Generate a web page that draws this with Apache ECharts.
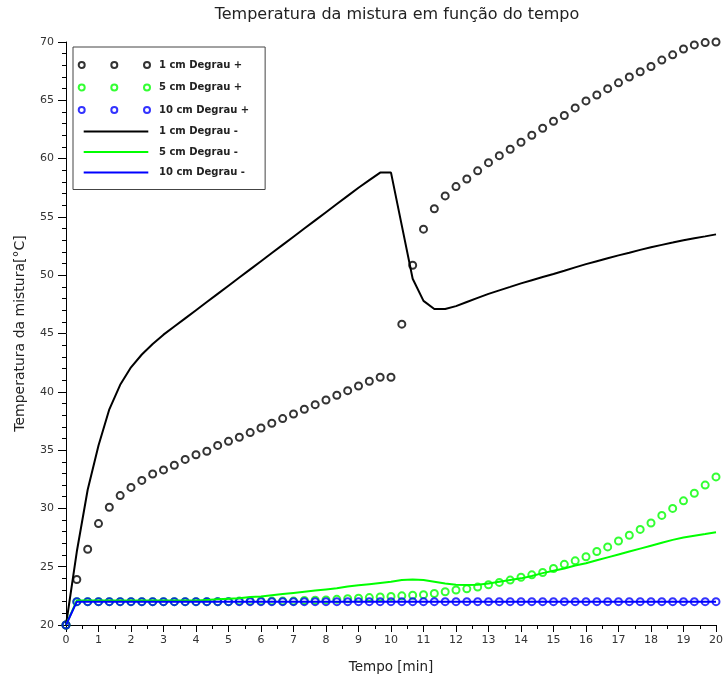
<!DOCTYPE html>
<html>
<head>
<meta charset="utf-8">
<script src="https://cdn.jsdelivr.net/npm/echarts@6/dist/echarts.min.js"></script>
<style>
  html, body { margin: 0; padding: 0; background: #fff; }
  #main { width: 726px; height: 684px; }
</style>
</head>
<body>
<div id="main"></div>
<script>
// tempo [min] - amostras a cada 1/3 min
var tempo = [
  0, 0.333, 0.667, 1, 1.333, 1.667, 2, 2.333, 2.667, 3, 3.333, 3.667, 4, 4.333, 4.667, 5,
  5.333, 5.667, 6, 6.333, 6.667, 7, 7.333, 7.667, 8, 8.333, 8.667, 9, 9.333, 9.667, 10,
  10.333, 10.667, 11, 11.333, 11.667, 12, 12.333, 12.667, 13, 13.333, 13.667, 14, 14.333, 14.667, 15,
  15.333, 15.667, 16, 16.333, 16.667, 17, 17.333, 17.667, 18, 18.333, 18.667, 19, 19.333, 19.667, 20
];

// degrau + (circulos)
var deg1Mais = [
  20, 23.9, 26.5, 28.7, 30.1, 31.1, 31.8, 32.4, 32.95, 33.3, 33.7, 34.2, 34.6, 34.9, 35.4, 35.75,
  36.1, 36.5, 36.9, 37.3, 37.7, 38.1, 38.5, 38.9, 39.3, 39.7, 40.1, 40.5, 40.9, 41.25, 41.25,
  45.8, 50.85, 53.95, 55.7, 56.8, 57.6, 58.25, 58.95, 59.65, 60.25, 60.8, 61.4, 62.0, 62.6, 63.2,
  63.7, 64.35, 64.95, 65.45, 66.0, 66.5, 67.0, 67.45, 67.9, 68.45, 68.9, 69.4, 69.75, 69.95, 70.0
];
var deg5Mais = [
  20, 22.0, 22.0, 22.0, 22.0, 22.0, 22.0, 22.0, 22.0, 22.0, 22.0, 22.0, 22.0, 22.0, 22.0, 22.0,
  22.05, 22.05, 22.05, 22.05, 22.05, 22.05, 22.1, 22.12, 22.15, 22.2, 22.25, 22.3, 22.35, 22.4, 22.45,
  22.5, 22.55, 22.6, 22.7, 22.85, 23.0, 23.1, 23.25, 23.45, 23.65, 23.85, 24.1, 24.3, 24.5, 24.85,
  25.2, 25.5, 25.85, 26.3, 26.7, 27.2, 27.7, 28.2, 28.75, 29.4, 30.0, 30.65, 31.3, 32.0, 32.7
];
var deg10Mais = [
  20, 22.0, 22.0, 22.0, 22.0, 22.0, 22.0, 22.0, 22.0, 22.0, 22.0, 22.0, 22.0, 22.0, 22.0, 22.0,
  22.0, 22.0, 22.0, 22.0, 22.0, 22.0, 22.0, 22.0, 22.0, 22.0, 22.0, 22.0, 22.0, 22.0, 22.0,
  22.0, 22.0, 22.0, 22.0, 22.0, 22.0, 22.0, 22.0, 22.0, 22.0, 22.0, 22.0, 22.0, 22.0, 22.0,
  22.0, 22.0, 22.0, 22.0, 22.0, 22.0, 22.0, 22.0, 22.0, 22.0, 22.0, 22.0, 22.0, 22.0, 22.0
];

// degrau - (linhas)
var deg1Menos = [
  20, 26.3, 31.6, 35.4, 38.5, 40.6, 42.1, 43.2, 44.1, 44.9, 45.6, 46.3, 47.0, 47.7, 48.4, 49.1,
  49.8, 50.5, 51.2, 51.9, 52.6, 53.3, 54.0, 54.7, 55.4, 56.1, 56.8, 57.5, 58.15, 58.8, 58.8,
  54.25, 49.7, 47.8, 47.1, 47.1, 47.35, 47.7, 48.05, 48.4, 48.7, 49.0, 49.3, 49.57, 49.84, 50.1,
  50.38, 50.67, 50.95, 51.2, 51.45, 51.7, 51.93, 52.17, 52.4, 52.6, 52.8, 53.0, 53.17, 53.33, 53.5
];
var deg5Menos = [
  20, 22.1, 22.1, 22.1, 22.1, 22.1, 22.1, 22.1, 22.1, 22.1, 22.1, 22.1, 22.1, 22.15, 22.2, 22.25,
  22.3, 22.4, 22.45, 22.55, 22.65, 22.75, 22.85, 22.95, 23.05, 23.15, 23.3, 23.4, 23.5, 23.6, 23.7,
  23.85, 23.9, 23.85, 23.7, 23.55, 23.45, 23.42, 23.45, 23.55, 23.7, 23.85, 24.0, 24.2, 24.45, 24.65,
  24.85, 25.1, 25.3, 25.55, 25.8, 26.05, 26.3, 26.55, 26.8, 27.05, 27.3, 27.5, 27.65, 27.8, 27.95
];
var deg10Menos = deg10Mais.slice();

var nomes = ['1 cm Degrau +', '5 cm Degrau +', '10 cm Degrau +', '1 cm Degrau -', '5 cm Degrau -', '10 cm Degrau -'];
var cores = ['#000000', '#00ff00', '#0000ff'];
var xTicks = { min: 0, max: 20, interval: 1 };
var yTicks = { min: 20, max: 70, interval: 5 };

function pares(ys) {
  return tempo.map(function (t, i) { return [t, ys[i]]; });
}

// icones da legenda (caixa 76x12)
var iconeCirculos = 'path://M0,0 M76,12 M0.7,6 a3,3 0 1,0 6,0 a3,3 0 1,0 -6,0 ' +
  'M33.3,6 a3,3 0 1,0 6,0 a3,3 0 1,0 -6,0 M66,6 a3,3 0 1,0 6,0 a3,3 0 1,0 -6,0';
var iconeLinha = 'path://M0,0 M76,12 M5.7,5 L70.3,5 L70.3,7 L5.7,7 Z';

var chart = echarts.init(document.getElementById('main'));
var fonte = 'DejaVu Sans';

function serieCirculos(nome, cor, ys) {
  return {
    name: nome, type: 'scatter', data: pares(ys),
    symbol: 'circle', symbolSize: 7,
    itemStyle: { color: 'transparent', borderColor: cor, borderWidth: 2 },
    emphasis: { disabled: true }, animation: false
  };
}
function serieLinha(nome, cor, ys) {
  return {
    name: nome, type: 'line', data: pares(ys),
    symbol: 'none', lineStyle: { color: cor, width: 2 }, itemStyle: { color: cor },
    emphasis: { disabled: true }, animation: false
  };
}

var option = {
  backgroundColor: '#fff',
  animation: false,
  title: {
    text: 'Temperatura da mistura em função do tempo',
    left: 392, top: 2, textAlign: 'center',
    textStyle: { fontFamily: fonte, fontSize: 16, fontWeight: 'normal', color: '#222' }
  },
  grid: { left: 66, right: 9, top: 42, bottom: 59, containLabel: false },
  legend: {
    orient: 'vertical', left: 73, top: 47,
    padding: [11, 16, 11, 4],
    itemWidth: 76, itemHeight: 12, itemGap: 8.5,
    borderColor: '#444', borderWidth: 1, backgroundColor: '#fff',
    selectedMode: false,
    textStyle: { fontFamily: fonte, fontSize: 10, fontWeight: 'bold', color: '#222' },
    data: [
      { name: nomes[0], icon: iconeCirculos },
      { name: nomes[1], icon: iconeCirculos },
      { name: nomes[2], icon: iconeCirculos },
      { name: nomes[3], icon: iconeLinha },
      { name: nomes[4], icon: iconeLinha },
      { name: nomes[5], icon: iconeLinha }
    ]
  },
  xAxis: {
    type: 'value', min: xTicks.min, max: xTicks.max, interval: xTicks.interval,
    name: 'Tempo [min]', nameLocation: 'middle', nameGap: 35,
    nameTextStyle: { fontFamily: fonte, fontSize: 13.5, color: '#222' },
    axisLine: { lineStyle: { color: '#000', width: 1 } },
    axisTick: { length: 7, lineStyle: { color: '#000' } },
    minorTick: { show: true, splitNumber: 2, length: 4, lineStyle: { color: '#000' } },
    splitLine: { show: false },
    axisLabel: { fontFamily: fonte, fontSize: 11, color: '#333', margin: 10 }
  },
  yAxis: {
    type: 'value', min: yTicks.min, max: yTicks.max, interval: yTicks.interval,
    name: 'Temperatura da mistura[°C]', nameLocation: 'middle', nameGap: 39,
    nameTextStyle: { fontFamily: fonte, fontSize: 14, color: '#222' },
    axisLine: { show: true, lineStyle: { color: '#000', width: 1 } },
    axisTick: { show: true, length: 8, lineStyle: { color: '#000' } },
    minorTick: { show: true, splitNumber: 5, length: 4, lineStyle: { color: '#000' } },
    splitLine: { show: false },
    axisLabel: { fontFamily: fonte, fontSize: 11, color: '#333', margin: 12 }
  },
  series: [
    serieCirculos(nomes[0], cores[0], deg1Mais),
    serieCirculos(nomes[1], cores[1], deg5Mais),
    serieCirculos(nomes[2], cores[2], deg10Mais),
    serieLinha(nomes[3], cores[0], deg1Menos),
    serieLinha(nomes[4], cores[1], deg5Menos),
    serieLinha(nomes[5], cores[2], deg10Menos)
  ]
};

chart.setOption(option);
</script>
</body>
</html>
